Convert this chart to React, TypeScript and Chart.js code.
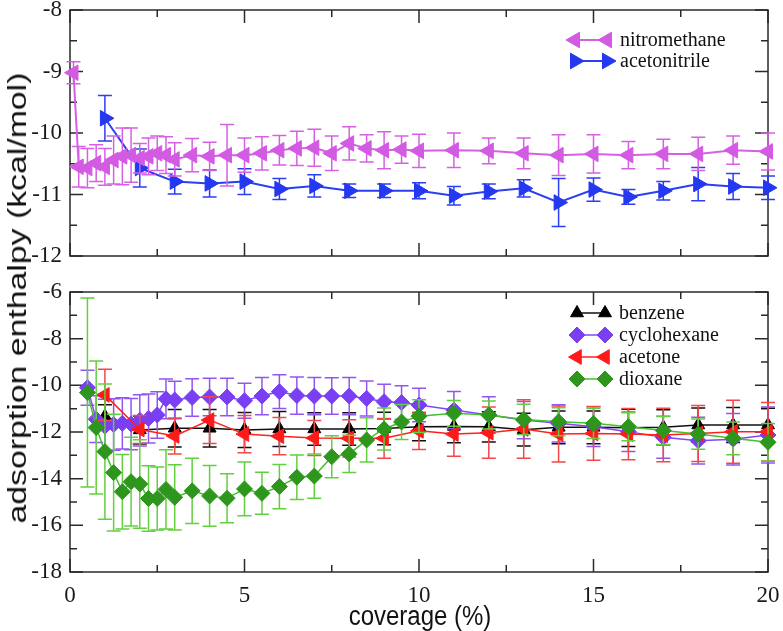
import React, { useEffect, useRef } from "react";
import { Chart, registerables } from "chart.js";

Chart.register(...registerables);
Chart.defaults.font.family = "'Liberation Serif', serif";

// ---------------- DATA ----------------
const xTickStep = 2.5;

// top panel
const nitroX = [0.1, 0.25, 0.5, 0.75, 1.0, 1.25, 1.5, 1.75, 2.0, 2.25, 2.5, 2.75, 3.0, 3.5, 4.0, 4.5, 5.0, 5.5, 6.0, 6.5, 7.0, 7.5, 8.0, 8.5, 9.0, 9.5, 10, 11, 12, 13, 14, 15, 16, 17, 18, 19, 20];
const nitroY = [-9.02, -10.55, -10.57, -10.49, -10.55, -10.44, -10.38, -10.36, -10.41, -10.38, -10.33, -10.36, -10.43, -10.36, -10.38, -10.36, -10.36, -10.33, -10.28, -10.25, -10.24, -10.33, -10.17, -10.25, -10.28, -10.27, -10.29, -10.28, -10.29, -10.33, -10.36, -10.34, -10.36, -10.34, -10.34, -10.28, -10.30];
const nitroErr = [0.18, 0.33, 0.32, 0.3, 0.3, 0.39, 0.46, 0.44, 0.24, 0.3, 0.28, 0.3, 0.27, 0.27, 0.23, 0.5, 0.28, 0.27, 0.24, 0.28, 0.3, 0.28, 0.27, 0.22, 0.3, 0.22, 0.27, 0.28, 0.21, 0.25, 0.33, 0.31, 0.22, 0.24, 0.27, 0.23, 0.3];

const acetonitrileX = [1, 2, 3, 4, 5, 6, 7, 8, 9, 10, 11, 12, 13, 14, 15, 16, 17, 18, 19, 20];
const acetonitrileY = [-9.76, -10.57, -10.79, -10.82, -10.79, -10.91, -10.86, -10.94, -10.94, -10.94, -11.02, -10.95, -10.9, -11.13, -10.92, -11.04, -10.94, -10.83, -10.87, -10.89];
const acetonitrileErr = [0.37, 0.31, 0.2, 0.22, 0.21, 0.17, 0.18, 0.11, 0.11, 0.13, 0.15, 0.12, 0.14, 0.39, 0.19, 0.12, 0.15, 0.27, 0.21, 0.19];

// bottom panel
const benzeneX = [1, 2, 3, 4, 5, 6, 7, 8, 9, 10, 11, 12, 13, 14, 15, 16, 17, 18, 19, 20];
const benzeneY = [-11.33, -11.91, -11.84, -11.84, -11.91, -11.87, -11.87, -11.87, -11.85, -11.78, -11.76, -11.78, -11.9, -11.8, -11.8, -11.82, -11.8, -11.7, -11.7, -11.7];
const benzeneErr = [0.5, 0.6, 0.8, 0.8, 0.75, 0.75, 0.7, 0.7, 0.7, 0.6, 0.7, 0.65, 0.7, 0.7, 0.7, 0.8, 0.75, 0.73, 0.75, 0.72];

const cyclohexaneX = [0.5, 0.75, 1.0, 1.25, 1.5, 1.75, 2.0, 2.25, 2.5, 2.75, 3.0, 3.5, 4.0, 4.5, 5.0, 5.5, 6.0, 6.5, 7.0, 7.5, 8.0, 8.5, 9.0, 9.5, 10, 11, 12, 13, 14, 15, 16, 17, 18, 19, 20];
const cyclohexaneY = [-10.1, -11.45, -11.75, -11.68, -11.63, -11.66, -11.5, -11.42, -11.27, -10.58, -10.63, -10.52, -10.5, -10.5, -10.66, -10.46, -10.27, -10.44, -10.46, -10.46, -10.46, -10.56, -10.7, -10.74, -10.84, -11.06, -11.27, -11.49, -11.63, -11.77, -11.99, -12.23, -12.37, -12.31, -12.13];
const cyclohexaneErr = [0.75, 1.0, 1.15, 1.1, 1.1, 1.1, 1.1, 1.05, 1.0, 0.85, 0.8, 0.8, 0.8, 0.8, 0.75, 0.8, 0.72, 0.8, 0.8, 0.78, 0.8, 0.75, 0.75, 0.72, 0.72, 0.8, 0.78, 0.8, 0.8, 0.85, 0.85, 0.9, 1.0, 1.1, 1.2];

const acetoneX = [1, 2, 3, 4, 5, 6, 7, 8, 9, 10, 11, 12, 13, 14, 15, 16, 17, 18, 19, 20];
const acetoneY = [-10.41, -11.89, -12.17, -11.49, -12.09, -12.18, -12.26, -12.27, -12.27, -11.95, -12.09, -12.03, -11.87, -12.09, -12.06, -12.09, -12.13, -12.06, -11.99, -11.99];
const acetoneErr = [1.1, 0.6, 0.77, 1.0, 0.8, 0.8, 0.75, 0.8, 0.85, 0.8, 0.95, 1.1, 1.25, 1.2, 1.15, 1.1, 1.15, 1.2, 1.35, 1.25];

const dioxaneX = [0.5, 0.75, 1.0, 1.25, 1.5, 1.75, 2.0, 2.25, 2.5, 2.75, 3.0, 3.5, 4.0, 4.5, 5.0, 5.5, 6.0, 6.5, 7.0, 7.5, 8.0, 8.5, 9.0, 9.5, 10, 11, 12, 13, 14, 15, 16, 17, 18, 19, 20];
const dioxaneY = [-10.31, -11.81, -12.84, -13.74, -14.56, -14.13, -14.23, -14.85, -14.85, -14.46, -14.8, -14.52, -14.74, -14.84, -14.44, -14.63, -14.34, -13.94, -13.89, -13.06, -12.94, -12.34, -11.87, -11.57, -11.32, -11.2, -11.27, -11.46, -11.56, -11.63, -11.77, -11.94, -12.09, -12.27, -12.44];
const dioxaneErr = [4.05, 2.85, 2.9, 2.5, 1.6, 1.9, 1.9, 1.4, 1.35, 1.7, 1.4, 1.4, 1.3, 1.05, 1.15, 0.9, 0.95, 0.95, 0.95, 0.9, 0.8, 0.95, 0.9, 0.75, 0.7, 0.55, 0.6, 0.65, 0.6, 0.65, 0.6, 0.6, 0.65, 0.7, 0.8];

const topLabels = ["nitromethane", "acetonitrile"];
const bottomLabels = ["benzene", "cyclohexane", "acetone", "dioxane"];
const xTitle = "coverage (%)";
const yTitle = "adsorption enthalpy (kcal/mol)";

// ---------------- HELPERS ----------------
const pts = (xs: number[], ys: number[]) => xs.map((x, i) => ({ x, y: ys[i] }));
const isMult = (v: number, m: number) => Math.abs(v / m - Math.round(v / m)) < 1e-6;

function drawMarker(ctx: CanvasRenderingContext2D, style: string, rotation: number, x: number, y: number, r: number) {
  ctx.beginPath();
  if (style === "triangle") {
    let rad = (rotation * Math.PI) / 180;
    ctx.moveTo(x + Math.sin(rad) * r, y - Math.cos(rad) * r);
    rad += (2 * Math.PI) / 3;
    ctx.lineTo(x + Math.sin(rad) * r, y - Math.cos(rad) * r);
    rad += (2 * Math.PI) / 3;
    ctx.lineTo(x + Math.sin(rad) * r, y - Math.cos(rad) * r);
  } else {
    ctx.moveTo(x - r, y);
    ctx.lineTo(x, y - r);
    ctx.lineTo(x + r, y);
    ctx.lineTo(x, y + r);
  }
  ctx.closePath();
  ctx.fill();
  ctx.stroke();
}

const errorBarPlugin = {
  id: "errorBars",
  beforeDatasetDraw(chart: any, args: any) {
    const ds = chart.data.datasets[args.index];
    const errs: number[] | undefined = ds.errors;
    if (!errs) return;
    const { ctx } = chart;
    const xs = chart.scales.x;
    const ys = chart.scales.y;
    const cap = 7;
    ctx.save();
    ctx.strokeStyle = ds.errorColor || ds.borderColor;
    ctx.lineWidth = 1.5;
    ds.data.forEach((p: any, i: number) => {
      const px = xs.getPixelForValue(p.x);
      const yt = ys.getPixelForValue(p.y + errs[i]);
      const yb = ys.getPixelForValue(p.y - errs[i]);
      ctx.beginPath();
      ctx.moveTo(px, yt);
      ctx.lineTo(px, yb);
      ctx.moveTo(px - cap, yt);
      ctx.lineTo(px + cap, yt);
      ctx.moveTo(px - cap, yb);
      ctx.lineTo(px + cap, yb);
      ctx.stroke();
    });
    ctx.restore();
  },
};

const framePlugin = {
  id: "frame",
  beforeDatasetsDraw(chart: any, _args: any, opts: any) {
    const { ctx, chartArea: a, scales } = chart;
    ctx.save();
    ctx.strokeStyle = "#2a2a2a";
    ctx.lineWidth = 1.5;
    ctx.strokeRect(a.left, a.top, a.right - a.left, a.bottom - a.top);
    const majorLen = 13;
    const minorLen = 7;
    ctx.beginPath();
    for (const t of scales.x.ticks) {
      const px = scales.x.getPixelForValue(t.value);
      const len = isMult(t.value, opts.xMajor) ? majorLen : minorLen;
      ctx.moveTo(px, a.bottom);
      ctx.lineTo(px, a.bottom - len);
      ctx.moveTo(px, a.top);
      ctx.lineTo(px, a.top + len);
    }
    for (const t of scales.y.ticks) {
      const py = scales.y.getPixelForValue(t.value);
      const len = isMult(t.value, opts.yMajor) ? majorLen : minorLen;
      ctx.moveTo(a.left, py);
      ctx.lineTo(a.left + len, py);
      ctx.moveTo(a.right, py);
      ctx.lineTo(a.right - len, py);
    }
    ctx.stroke();
    ctx.restore();
  },
};

const pairLegendPlugin = {
  id: "pairLegend",
  afterDraw(chart: any, _args: any, opts: any) {
    const { ctx } = chart;
    ctx.save();
    chart.data.datasets.forEach((ds: any, i: number) => {
      const y = opts.y + i * opts.rowH;
      ctx.strokeStyle = ds.borderColor;
      ctx.lineWidth = ds.borderWidth;
      ctx.beginPath();
      ctx.moveTo(opts.x1, y);
      ctx.lineTo(opts.x2, y);
      ctx.stroke();
      ctx.fillStyle = ds.pointBackgroundColor;
      ctx.strokeStyle = ds.pointBorderColor;
      ctx.lineWidth = 1;
      drawMarker(ctx, ds.pointStyle, ds.pointRotation || 0, opts.x1, y, ds.pointRadius);
      drawMarker(ctx, ds.pointStyle, ds.pointRotation || 0, opts.x2, y, ds.pointRadius);
      ctx.fillStyle = "#111";
      ctx.font = '20px "Liberation Serif", serif';
      ctx.textBaseline = "middle";
      ctx.textAlign = "left";
      ctx.fillText(ds.label, opts.tx, y + 1);
    });
    ctx.restore();
  },
};

function makeDataset(label: string, xs: number[], ys: number[], errs: number[], o: any) {
  return {
    label,
    data: pts(xs, ys),
    errors: errs,
    errorColor: o.errorColor || o.line,
    borderColor: o.line,
    borderWidth: o.lineWidth || 1.5,
    backgroundColor: o.marker,
    pointBackgroundColor: o.marker,
    pointBorderColor: o.marker,
    pointBorderWidth: 1,
    pointStyle: o.style,
    pointRotation: o.rotation || 0,
    pointRadius: o.radius,
    pointHoverRadius: o.radius,
    tension: 0,
    fill: false,
    clip: false,
    order: o.order || 0,
  };
}

function baseOptions(yMin: number, yMax: number, yStep: number, yMajor: number, padTop: number, xHeight: number, showX: boolean, legend: any) {
  return {
    animation: false,
    responsive: false,
    maintainAspectRatio: false,
    layout: { padding: { top: padTop, right: 15, left: 0, bottom: 0 } },
    plugins: {
      legend: { display: false },
      tooltip: { enabled: false },
      frame: { xMajor: 5, yMajor },
      pairLegend: legend,
    },
    scales: {
      x: {
        type: "linear",
        min: 0,
        max: 20,
        ticks: {
          display: showX,
          stepSize: xTickStep,
          autoSkip: false,
          maxRotation: 0,
          padding: 10,
          color: "#1a1a1a",
          font: { family: "'Liberation Serif', serif", size: 23 },
          callback: (v: number) => (isMult(v, 5) ? String(v) : ""),
        },
        grid: { display: false, drawTicks: false },
        border: { display: false },
        afterFit: (s: any) => {
          s.height = xHeight;
          s.paddingLeft = 0;
          s.paddingRight = 0;
        },
      },
      y: {
        type: "linear",
        min: yMin,
        max: yMax,
        ticks: {
          stepSize: yStep,
          autoSkip: false,
          padding: 8,
          color: "#1a1a1a",
          font: { family: "'Liberation Serif', serif", size: 23 },
          callback: (v: number) => (isMult(v, yMajor) ? String(Math.round(v)) : ""),
        },
        grid: { display: false, drawTicks: false },
        border: { display: false },
        afterFit: (s: any) => {
          s.width = 70;
          s.paddingTop = 0;
          s.paddingBottom = 0;
        },
      },
    },
  };
}

export default function App() {
  const topRef = useRef<HTMLCanvasElement>(null);
  const botRef = useRef<HTMLCanvasElement>(null);

  useEffect(() => {
    const top = new Chart(topRef.current as HTMLCanvasElement, {
      type: "line",
      data: {
        datasets: [
          makeDataset(topLabels[0], nitroX, nitroY, nitroErr, { line: "#d660e4", marker: "#d35ae2", style: "triangle", rotation: -90, radius: 9, lineWidth: 2 }),
          makeDataset(topLabels[1], acetonitrileX, acetonitrileY, acetonitrileErr, { line: "#2b3ff2", marker: "#2438f0", style: "triangle", rotation: 90, radius: 9, lineWidth: 2 }),
        ],
      } as any,
      options: baseOptions(-12, -8, 0.5, 1, 10, 14, false, { x1: 575, x2: 607, tx: 620, y: 40, rowH: 21 }) as any,
      plugins: [errorBarPlugin, framePlugin, pairLegendPlugin],
    });

    const bottom = new Chart(botRef.current as HTMLCanvasElement, {
      type: "line",
      data: {
        datasets: [
          makeDataset(bottomLabels[0], benzeneX, benzeneY, benzeneErr, { line: "#111111", marker: "#000000", style: "triangle", rotation: 0, radius: 7.5, order: 3 }),
          makeDataset(bottomLabels[1], cyclohexaneX, cyclohexaneY, cyclohexaneErr, { line: "#8048f4", marker: "#7a3ff2", errorColor: "#9256f0", style: "rectRot", radius: 8, order: 2 }),
          makeDataset(bottomLabels[2], acetoneX, acetoneY, acetoneErr, { line: "#ff2020", marker: "#ff1a1a", errorColor: "#f24848", style: "triangle", rotation: -90, radius: 8.5, order: 1 }),
          makeDataset(bottomLabels[3], dioxaneX, dioxaneY, dioxaneErr, { line: "#46c02e", marker: "#2e961c", errorColor: "#62d03e", style: "rectRot", radius: 8, order: 0 }),
        ],
      } as any,
      options: baseOptions(-18, -6, 1, 2, 20, 59, true, { x1: 577, x2: 605, tx: 619, y: 41, rowH: 22 }) as any,
      plugins: [errorBarPlugin, framePlugin, pairLegendPlugin],
    });

    return () => {
      top.destroy();
      bottom.destroy();
    };
  }, []);

  return (
    <div style={{ position: "absolute", left: 0, top: 0, width: 783, height: 631, background: "#ffffff", overflow: "hidden" }}>
      <canvas ref={topRef} width={783} height={270} style={{ position: "absolute", left: 0, top: 0, width: 783, height: 270 }} />
      <canvas ref={botRef} width={783} height={359} style={{ position: "absolute", left: 0, top: 272, width: 783, height: 359 }} />
      <div
        style={{
          position: "absolute",
          left: 17,
          top: 298,
          transform: "translate(-50%, -50%) rotate(-90deg) scaleX(1.3)",
          whiteSpace: "nowrap",
          font: '26px "Liberation Sans", sans-serif',
          color: "#111",
          lineHeight: 1,
        }}
      >
        {yTitle}
      </div>
      <div
        style={{
          position: "absolute",
          left: 420,
          top: 616,
          transform: "translate(-50%, -50%) scaleY(1.15)",
          whiteSpace: "nowrap",
          font: '24px "Liberation Sans", sans-serif',
          color: "#111",
          lineHeight: 1,
        }}
      >
        {xTitle}
      </div>
    </div>
  );
}
